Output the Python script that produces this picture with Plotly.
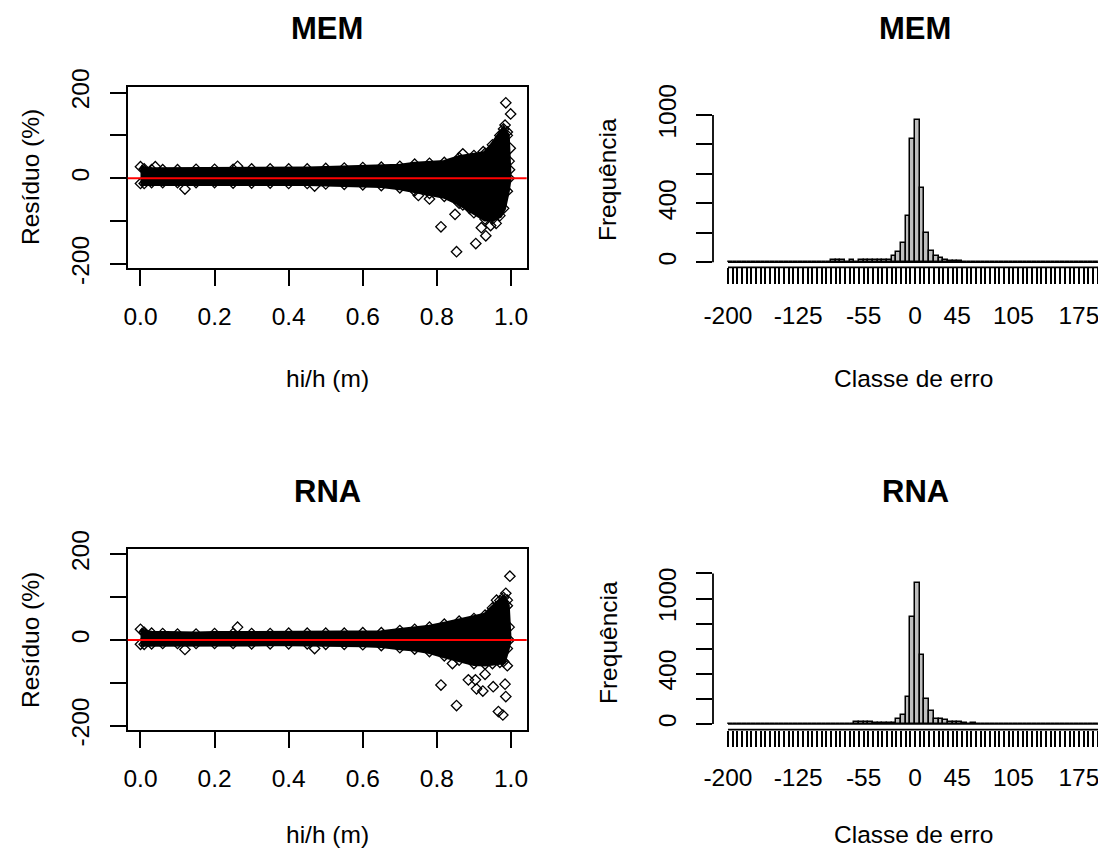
import plotly.graph_objects as go

W, H = 1098, 852


def fx(p):
    return p / W


def fy(p):
    return 1 - p / H


# ---------------- data ----------------
# outer limits of the dense residual cloud (hi/h, residual %)
hi_env = [0.0, 0.01, 0.03, 0.06, 0.10, 0.15, 0.20, 0.25, 0.30, 0.35, 0.40, 0.45, 0.50, 0.55,
          0.60, 0.65, 0.70, 0.74, 0.78, 0.82, 0.86, 0.90, 0.93, 0.95, 0.97, 0.98, 0.99, 0.995]
res_up_mem = [27, 22, 20, 20, 20, 21, 21, 21, 22, 22, 22, 22, 23, 24,
              25, 26, 28, 33, 35, 37, 48, 53, 58, 78, 100, 115, 100, 40]
res_lo_mem = [-12, -12, -10, -10, -10, -10, -10, -11, -11, -11, -12, -12, -13, -14,
              -15, -17, -22, -29, -35, -42, -58, -80, -95, -95, -87, -70, -30, 0]
res_up_rna = [25, 18, 16, 15, 14, 14, 15, 15, 15, 15, 16, 16, 16, 16,
              17, 17, 22, 25, 30, 37, 44, 50, 58, 75, 92, 99, 80, 30]
res_lo_rna = [-10, -10, -9, -8, -8, -8, -8, -8, -9, -9, -9, -9, -10, -10,
              -11, -13, -18, -21, -27, -37, -47, -55, -56, -55, -52, -50, -20, 0]

# isolated residuals outside the cloud
hi_out_mem = [0.986, 0.999, 0.984, 0.990, 0.811, 0.853, 0.905, 0.932, 0.849, 0.870, 0.888,
              0.960, 0.945, 0.040, 0.262, 0.120, 0.470, 0.750, 0.780, 0.870, 0.925, 0.998,
              0.996, 0.920]
res_out_mem = [176, 150, 124, 108, -113, -171, -152, -134, -84, -62, -70,
               -105, -110, 27, 28, -25, -18, -40, -48, 57, 62, 70,
               20, -115]
hi_out_rna = [0.997, 0.986, 0.961, 0.990, 0.811, 0.853, 0.904, 0.907, 0.924, 0.952, 0.984,
              0.986, 0.966, 0.978, 0.885, 0.842, 0.262, 0.120, 0.470, 0.930, 0.990]
res_out_rna = [149, 109, 93, 93, -105, -153, -93, -114, -119, -109, -103,
               -132, -167, -175, -93, -55, 30, -22, -20, -80, -60]

# error classes (5 % wide) from -200 to 200
class_edges = list(range(-200, 205, 5))
freq_mem = [0] * 22 + [15, 15, 15, 2, 15, 2, 14, 14, 14, 14, 14, 14, 16, 46, 68, 130, 312,
                       835, 966, 507, 201, 77, 43, 27, 14, 12, 12, 11] + [0] * 30
freq_rna = [0] * 27 + [14, 14, 14, 14, 12, 8, 8, 8, 12, 40, 70, 212, 850, 1126, 550, 199,
                       106, 40, 38, 30, 13, 13, 13, 10, 0, 10] + [0] * 27

sc_xticks = [0.0, 0.2, 0.4, 0.6, 0.8, 1.0]
sc_xlabels = ["0.0", "0.2", "0.4", "0.6", "0.8", "1.0"]
sc_yticks = [-200, -100, 0, 100, 200]
sc_ylabels = ["-200", "", "0", "", "200"]
hist_shown = {-200: "-200", -125: "-125", -55: "-55", 0: "0", 45: "45", 105: "105", 175: "175"}
freq_ticks_mem = [0, 200, 400, 600, 800, 1000]
freq_ticks_rna = [0, 200, 400, 600, 800, 1000, 1200]
freq_labels = {0: "0", 400: "400", 1000: "1000"}

FONT = "Liberation Sans, Arial, sans-serif"
LW = 1.8

fig = go.Figure()


def add_scatter(xa, ya, up, lo, hx, hy):
    fig.add_trace(go.Scatter(
        x=hi_env + hi_env[::-1], y=up + lo[::-1], mode="lines", fill="toself",
        fillcolor="black", line=dict(color="black", width=5),
        xaxis=xa, yaxis=ya, hoverinfo="skip"))
    fig.add_trace(go.Scatter(
        x=hi_env + hi_env + hx, y=up + lo + hy, mode="markers",
        marker=dict(symbol="diamond-open", size=8, color="black", line=dict(width=1.3)),
        xaxis=xa, yaxis=ya))


def add_hist(xa, ya, freq):
    centers = [(a + b) / 2 for a, b in zip(class_edges[:-1], class_edges[1:])]
    fig.add_trace(go.Scatter(x=[class_edges[0], class_edges[-1]], y=[0, 0], mode="lines",
                             line=dict(color="black", width=1.5), xaxis=xa, yaxis=ya))
    fig.add_trace(go.Bar(x=centers, y=freq, width=5, xaxis=xa, yaxis=ya,
                         marker=dict(color="#BEBEBE", line=dict(color="black", width=1.5))))


add_scatter("x", "y", res_up_mem, res_lo_mem, hi_out_mem, res_out_mem)
add_hist("x2", "y2", freq_mem)
add_scatter("x3", "y3", res_up_rna, res_lo_rna, hi_out_rna, res_out_rna)
add_hist("x4", "y4", freq_rna)

tickfont = dict(family=FONT, size=24.5, color="black")

HX0 = 713            # left edge of the histogram panels (px)
HSCALE = 0.9357      # px per % on the histogram x axis


def sc_x(anchor):
    return dict(domain=[fx(127.7), fx(526.7)], range=[-0.0345, 1.0424], anchor=anchor,
                showline=True, mirror=True, linecolor="black", linewidth=LW,
                ticks="outside", ticklen=16, tickwidth=LW, tickcolor="black",
                tickvals=sc_xticks, ticktext=sc_xlabels, showgrid=False, zeroline=False,
                tickfont=tickfont, ticklabelstandoff=10, automargin=False)


def sc_y(anchor, top, bottom, rng):
    return dict(domain=[fy(bottom), fy(top)], range=rng, anchor=anchor,
                showline=True, mirror=True, linecolor="black", linewidth=LW,
                ticks="outside", ticklen=16, tickwidth=LW, tickcolor="black",
                tickvals=sc_yticks, ticktext=sc_ylabels, tickangle=-90,
                showgrid=False, zeroline=False, tickfont=tickfont, ticklabelstandoff=11,
                automargin=False)


def h_x(anchor):
    return dict(domain=[fx(HX0), 1.0], range=[-216, -216 + (W - HX0) / HSCALE], anchor=anchor,
                showline=False, ticks="outside", ticklen=16, tickwidth=LW, tickcolor="black",
                tickvals=class_edges, ticktext=[hist_shown.get(v, "") for v in class_edges],
                ticklabeloverflow="allow", automargin=False,
                showgrid=False, zeroline=False, tickfont=tickfont, ticklabelstandoff=10)


def h_y(anchor, top, bottom, rng, ticks):
    return dict(domain=[fy(bottom), fy(top)], range=rng, anchor=anchor,
                showline=False, ticks="outside", ticklen=16, tickwidth=LW, tickcolor="black",
                tickvals=ticks, ticktext=[freq_labels.get(v, "") for v in ticks], tickangle=-90,
                showgrid=False, zeroline=False, tickfont=tickfont, ticklabelstandoff=10,
                automargin=False)


fig.update_layout(
    width=W, height=H, autosize=False,
    margin=dict(l=0, r=0, t=0, b=0, pad=0, autoexpand=False),
    paper_bgcolor="white", plot_bgcolor="white", showlegend=False, bargap=0,
    font=dict(family=FONT, color="black"),
    xaxis=sc_x("y"), yaxis=sc_y("x", 86.5, 268, [-209, 214]),
    xaxis2=h_x("y2"), yaxis2=h_y("x2", 100, 267.3, [-34, 1102], freq_ticks_mem),
    xaxis3=sc_x("y3"), yaxis3=sc_y("x3", 549.3, 730, [-210, 211.7]),
    xaxis4=h_x("y4"), yaxis4=h_y("x4", 562, 729.7, [-45.4, 1291], freq_ticks_rna),
)

shapes = []
for ya in ("y", "y3"):
    xa = "x" if ya == "y" else "x3"
    shapes.append(dict(type="line", xref=f"{xa} domain", x0=0, x1=1, yref=ya, y0=0, y1=0,
                       line=dict(color="red", width=2)))
for xa, ya, base, ticks in (("x2", "y2", 267.3, freq_ticks_mem), ("x4", "y4", 729.7, freq_ticks_rna)):
    shapes.append(dict(type="line", xref=xa, x0=class_edges[0], x1=class_edges[-1],
                       yref="paper", y0=fy(base), y1=fy(base), line=dict(color="black", width=LW)))
    shapes.append(dict(type="line", xref="paper", x0=fx(HX0), x1=fx(HX0),
                       yref=ya, y0=ticks[0], y1=ticks[-1], line=dict(color="black", width=LW)))
fig.update_layout(shapes=shapes)

ann = []


def text(t, x, y, size=24.5, bold=False, angle=0):
    ann.append(dict(text=f"<b>{t}</b>" if bold else t, x=fx(x), y=fy(y), xref="paper", yref="paper",
                    showarrow=False, xanchor="center", yanchor="middle", textangle=angle,
                    font=dict(family=FONT, size=size, color="black")))


for dy, xlab_y, name in ((0, 378, "MEM"), (463, 834, "RNA")):
    text(name, 327, 28 + dy, size=31, bold=True)
    text(name, 915, 28 + dy, size=31, bold=True)
    text("hi/h (m)", 327, xlab_y)
    text("Classe de erro", 913, xlab_y)
    text("Resíduo (%)", 30, 177 + dy, angle=-90)
    text("Frequência", 608, 180 + dy, angle=-90)
fig.update_layout(annotations=ann)

fig.write_html("out.html")
